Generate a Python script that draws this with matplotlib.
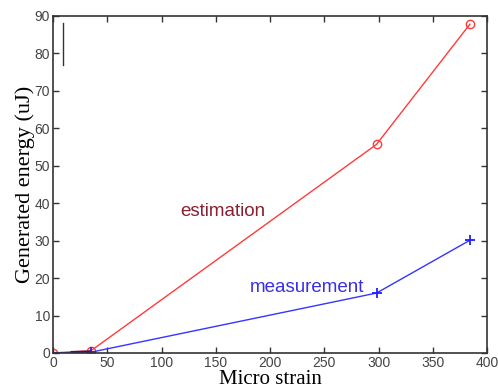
import matplotlib
matplotlib.use("Agg")
import matplotlib.pyplot as plt

# data
strain = [0, 35, 298, 384]
estimation = [0, 0.6, 55.7, 87.8]
measurement = [0, 0.2, 16.0, 30.1]

xticks = [0, 50, 100, 150, 200, 250, 300, 350, 400]
yticks = [0, 10, 20, 30, 40, 50, 60, 70, 80, 90]

fig = plt.figure(figsize=(4.98, 3.9), dpi=100)
ax = fig.add_axes([0.1064, 0.095, 0.872, 0.864])

ax.plot(strain, estimation, color="#ff3b3b", lw=1.0, marker="o", ms=6,
        mfc="none", mec="#ff3b3b", mew=1.0)
ax.plot(strain, measurement, color="#3535ff", lw=1.0, marker="+", ms=7,
        mec="#2020ff", mew=1.3)
# overlapping bit near the origin looks dark
ax.plot([17, 34], [0.3, 0.4], color="#2a1a70", lw=1.3)
# stray mark top-left
ax.plot([9.2, 9.2], [76.8, 88.2], color="#333333", lw=1.0)

ax.text(117, 37.9, "estimation", color="#8a2030", fontsize=13.5,
        family="Liberation Sans", va="center")
ax.text(181, 17.4, "measurement", color="#3a2ee8", fontsize=13.5,
        family="Liberation Sans", va="center")

ax.set_xlim(0, 400)
ax.set_ylim(0, 90)
ax.set_xticks(xticks)
ax.set_yticks(yticks)
ax.tick_params(direction="in", top=True, right=True, length=4, width=1,
               colors="#333333", labelsize=10, labelcolor="#444444", pad=2)
for lab in ax.get_xticklabels() + ax.get_yticklabels():
    lab.set_family("Liberation Sans")
for s in ax.spines.values():
    s.set_color("#333333")
    s.set_linewidth(1.2)

ax.set_xlabel("Micro strain", family="Liberation Serif", fontsize=15, labelpad=0)
ax.set_ylabel("Generated energy (uJ)", family="Liberation Serif", fontsize=16, labelpad=0)

fig.savefig("out.png", dpi=100)
